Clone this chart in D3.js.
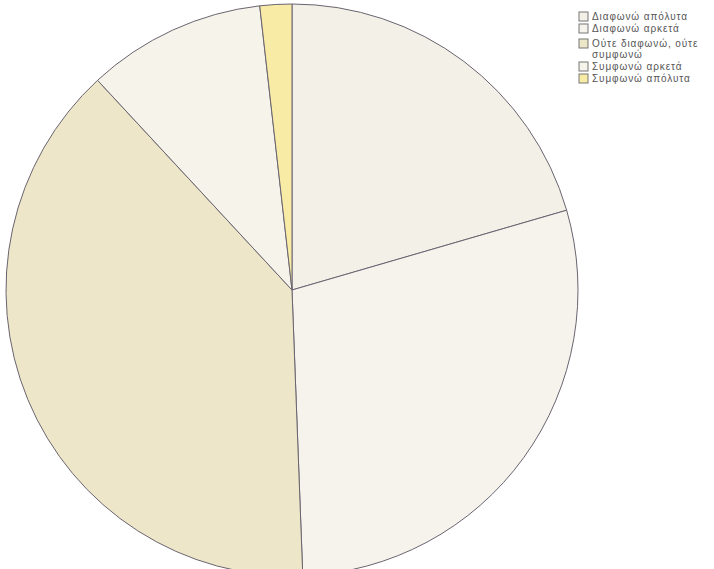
<!DOCTYPE html>
<html>
<head>
<meta charset="utf-8">
<style>
  body { margin: 0; background: #fff; }
  .legend text { font-family: "Liberation Sans", Arial, sans-serif; font-size: 10px; fill: #555; letter-spacing: 0.9px; }
</style>
</head>
<body>
<svg width="714" height="569"></svg>
<script src="https://d3js.org/d3.v7.min.js"></script>
<script>
// απαντήσεις (ποσοστά, εκτίμηση από την εικόνα)
var categories = ["Διαφωνώ απόλυτα", "Διαφωνώ αρκετά", "Ούτε διαφωνώ, ούτε συμφωνώ", "Συμφωνώ αρκετά", "Συμφωνώ απόλυτα"];
var values = [20.5, 28.9, 38.7, 10.1, 1.8];
var colors = ["#f3f0e8", "#f5f3ec", "#ede6c8", "#f6f3ea", "#f8eba6"];
var legendLines = [["Διαφωνώ απόλυτα"], ["Διαφωνώ αρκετά"], ["Ούτε διαφωνώ, ούτε", "συμφωνώ"], ["Συμφωνώ αρκετά"], ["Συμφωνώ απόλυτα"]];

var svg = d3.select("svg");
var cx = 292, cy = 290, r = 286;

var pie = d3.pie().sort(null).value(function(d) { return d; });
var arc = d3.arc().innerRadius(0).outerRadius(r);

var g = svg.append("g").attr("transform", "translate(" + cx + "," + cy + ")");
g.selectAll("path")
  .data(pie(values))
  .enter().append("path")
  .attr("d", arc)
  .attr("fill", function(d, i) { return colors[i]; })
  .attr("stroke", "#6a6470")
  .attr("stroke-width", 1);

// legend
var rowY = [20, 32, 47, 70, 82];
var legend = svg.append("g").attr("class", "legend");
var item = legend.selectAll("g")
  .data(categories)
  .enter().append("g")
  .attr("transform", function(d, i) { return "translate(579," + rowY[i] + ")"; });

item.append("rect")
  .attr("x", 0).attr("y", -8)
  .attr("width", 9).attr("height", 9)
  .attr("fill", function(d, i) { return colors[i]; })
  .attr("stroke", "#777")
  .attr("stroke-width", 1);

item.append("text")
  .attr("x", 13).attr("y", 0)
  .selectAll("tspan")
  .data(function(d, i) { return legendLines[i]; })
  .enter().append("tspan")
  .attr("x", 13)
  .attr("dy", function(d, j) { return j === 0 ? 0 : 11; })
  .text(function(d) { return d; });
</script>
</body>
</html>
